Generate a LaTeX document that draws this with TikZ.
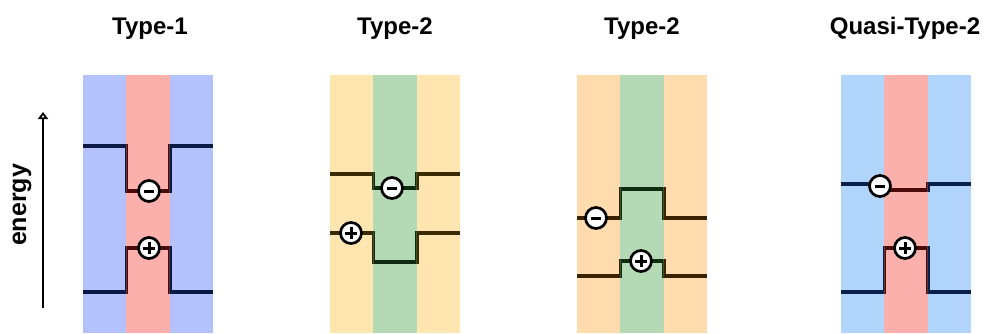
\documentclass[tikz,border=0pt]{standalone}
\usepackage{fontspec}
\setmainfont{Liberation Sans}
\usetikzlibrary{arrows.meta}

% stripe fills
\definecolor{bandblue}{HTML}{B4C2FB}
\definecolor{bandpink}{HTML}{FBB0AB}
\definecolor{bandyellow}{HTML}{FFE6B1}
\definecolor{bandgreen}{HTML}{B3D9B5}
\definecolor{bandorange}{HTML}{FFDBAE}
\definecolor{bandsky}{HTML}{B1D4FA}
% level-line tints for each stripe
\definecolor{lnblue}{HTML}{0B1A45}
\definecolor{lnpink}{HTML}{4A0A08}
\definecolor{lnyellow}{HTML}{3A2A02}
\definecolor{lngreen}{HTML}{0E2C10}
\definecolor{lnorange}{HTML}{3A2200}
\definecolor{lnsky}{HTML}{08204A}

% #1 left edge, #2 outer fill, #3 inner fill
\newcommand\bands[3]{%
  \fill[#2] (#1,75) rectangle ++(43.4,258);
  \fill[#3] (#1+43.4,75) rectangle ++(43.3,258);
  \fill[#2] (#1+86.7,75) rectangle ++(43.3,258);
}
% #1 left edge, #2 outer level, #3 inner level, #4 outer tint, #5 inner tint
\newcommand\level[5]{%
  \def\lvlpath{(#1,#2) -- (#1+43.4,#2) -- (#1+43.4,#3) -- (#1+86.7,#3) -- (#1+86.7,#2) -- (#1+130,#2)}%
  \begin{scope}\clip (#1-2,0) rectangle (#1+43.4,333);
    \draw[levelline,#4] \lvlpath;\end{scope}
  \begin{scope}\clip (#1+43.4,0) rectangle (#1+86.7,333);
    \draw[levelline,#5] \lvlpath;\end{scope}
  \begin{scope}\clip (#1+86.7,0) rectangle (#1+132,333);
    \draw[levelline,#4] \lvlpath;\end{scope}
}
\newcommand\minusat[2]{%
  \node[charge] (#1) at (#2) {};
  \draw[signbar] ([xshift=-5pt]#1.center) -- ([xshift=5pt]#1.center);
}
\newcommand\plusat[2]{%
  \node[charge] (#1) at (#2) {};
  \draw[signbar] ([xshift=-5.8pt]#1.center) -- ([xshift=5.8pt]#1.center);
  \draw[signbar] ([yshift=-5.8pt]#1.center) -- ([yshift=5.8pt]#1.center);
}

\begin{document}
\begin{tikzpicture}[x=1pt,y=-1pt,
  levelline/.style={line width=3.6pt},
  charge/.style={circle,draw=black,fill=white,line width=2.7pt,minimum size=21pt,inner sep=0pt},
  signbar/.style={line width=3pt,black},
  heading/.style={font=\bfseries\fontsize{24}{26}\selectfont,anchor=base},
  axislabel/.style={font=\bfseries\fontsize{25}{27}\selectfont,rotate=90}]
  \useasboundingbox[fill=white] (0,0) rectangle (991,333);

  % energy axis
  \coordinate (axbot) at (43,308);
  \coordinate (axtop) at (43,112);
  \draw[line width=2.6pt,-{Triangle[open,length=7pt,width=10pt,line width=2.4pt]}] (axbot) -- (axtop);
  \node[axislabel] (energy) at (22,205) {energy};

  % Type-1
  \node[heading] (t1) at (150,34) {Type-1};
  \bands{83}{bandblue}{bandpink}
  \level{83}{146}{191}{lnblue}{lnpink}
  \level{83}{292}{248}{lnblue}{lnpink}
  \minusat{e1}{149,191}
  \plusat{h1}{149,248}

  % Type-2 (electron well in the middle layer)
  \node[heading] (t2) at (395,34) {Type-2};
  \bands{330}{bandyellow}{bandgreen}
  \level{330}{174}{188}{lnyellow}{lngreen}
  \level{330}{233}{262}{lnyellow}{lngreen}
  \minusat{e2}{392,188}
  \plusat{h2}{351,233}

  % Type-2 (hole well in the middle layer)
  \node[heading] (t3) at (642,34) {Type-2};
  \bands{577}{bandorange}{bandgreen}
  \level{577}{218}{189}{lnorange}{lngreen}
  \level{577}{276}{261}{lnorange}{lngreen}
  \minusat{e3}{596,218}
  \plusat{h3}{641,261}

  % Quasi-Type-2
  \node[heading] (t4) at (905,34) {Quasi-Type-2};
  \bands{841}{bandsky}{bandpink}
  \level{841}{184}{190}{lnsky}{lnpink}
  \level{841}{292}{248}{lnsky}{lnpink}
  \minusat{e4}{880,186}
  \plusat{h4}{905,248}
\end{tikzpicture}
\end{document}
